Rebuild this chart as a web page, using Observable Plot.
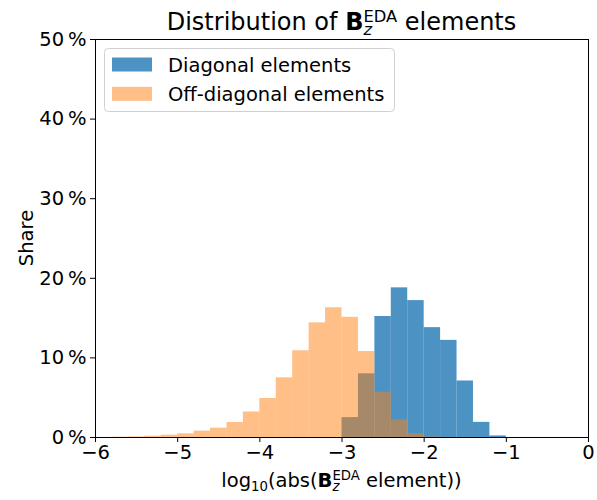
<!DOCTYPE html>
<html>
<head>
<meta charset="utf-8">
<script src="https://cdn.jsdelivr.net/npm/d3@7"></script>
<script src="https://cdn.jsdelivr.net/npm/@observablehq/plot@0.6"></script>
<style>
  html, body { margin: 0; padding: 0; background: #fff; }
  #chart { width: 597px; height: 500px; }
  svg { font-family: "DejaVu Sans", sans-serif; }
</style>
</head>
<body>
<div id="chart"></div>
<script>
// ---- data (share in %, histogram bins of width 0.2 on log10 scale) ----
const binWidth = 0.2;
const diagBinStarts = [-3.0, -2.8, -2.6, -2.4, -2.2, -2.0, -1.8, -1.6, -1.4, -1.2];
const diagShares    = [2.5, 8.0, 15.2, 18.8, 17.2, 13.8, 12.2, 7.1, 1.9, 0.2];
const offBinStarts  = [-5.8, -5.6, -5.4, -5.2, -5.0, -4.8, -4.6, -4.4, -4.2, -4.0,
                       -3.8, -3.6, -3.4, -3.2, -3.0, -2.8, -2.6, -2.4, -2.2, -2.0];
const offShares     = [0.04, 0.08, 0.17, 0.29, 0.46, 0.8, 1.17, 1.88, 3.2, 4.9,
                       7.5, 10.9, 14.4, 16.3, 15.1, 10.8, 5.7, 2.2, 0.5, 0.05];
const xTicks = [-6, -5, -4, -3, -2, -1, 0];
const yTicks = [0, 10, 20, 30, 40, 50];
const seriesNames = ["Diagonal elements", "Off-diagonal elements"];
const seriesColors = ["#1f77b4", "#ff7f0e"];
const seriesOpacity = [0.8, 0.5];

const diag = diagBinStarts.map((s, i) => ({x1: s, x2: s + binWidth, y: diagShares[i]}));
const off  = offBinStarts.map((s, i) => ({x1: s, x2: s + binWidth, y: offShares[i]}));

const fmtMinus = d => (d < 0 ? "\u2212" + Math.abs(d) : String(d));

const W = 597, H = 500;
const mL = 95, mR = 9, mT = 39, mB = 63;
const FS = 19.5;

const svg = Plot.plot({
  width: W, height: H,
  marginLeft: mL, marginRight: mR, marginTop: mT, marginBottom: mB,
  x: {domain: [-6, 0]},
  y: {domain: [0, 50]},
  marks: [
    Plot.rectY(diag, {x1: "x1", x2: "x2", y: "y", fill: seriesColors[0], fillOpacity: seriesOpacity[0], inset: 0}),
    Plot.rectY(off,  {x1: "x1", x2: "x2", y: "y", fill: seriesColors[1], fillOpacity: seriesOpacity[1], inset: 0}),
    Plot.frame({stroke: "#000", strokeWidth: 1}),
    Plot.axisX({ticks: xTicks, tickFormat: fmtMinus, tickSize: 5, tickPadding: 3, fontSize: FS, label: null, stroke: "#000", color: "#000"}),
    Plot.axisY({ticks: yTicks, tickFormat: d => d + "\u2009%", tickSize: 5, tickPadding: 4, fontSize: FS, label: null, stroke: "#000", color: "#000"})
  ]
});
svg.style.fontFamily = '"DejaVu Sans", sans-serif';
svg.style.color = "#000";
document.getElementById("chart").appendChild(svg);

const s = d3.select(svg);
const cx = mL + (W - mL - mR) / 2;

// helper: text with bold B, subscript z and superscript EDA
function mathText(x, y, size, pre, post, opts = {}) {
  const subSize = size * 0.68;
  const t = s.append("text")
    .attr("x", x).attr("y", y)
    .attr("text-anchor", "middle")
    .attr("fill", "#000")
    .style("font-size", size + "px");
  if (opts.logPrefix) {
    t.append("tspan").text("log");
    t.append("tspan").style("font-size", subSize + "px").attr("dy", size * 0.22).text("10");
    t.append("tspan").attr("dy", -size * 0.22).text(pre);
  } else {
    t.append("tspan").text(pre);
  }
  t.append("tspan").style("font-weight", "bold").text("B");
  const z = t.append("tspan").style("font-size", subSize + "px").style("font-style", "italic")
    .attr("dy", size * 0.22).text("z");
  const zw = z.node().getComputedTextLength();
  t.append("tspan").style("font-size", subSize + "px")
    .attr("dx", -zw).attr("dy", -size * 0.57).text("EDA");
  t.append("tspan").attr("dy", size * 0.35).text(post);
  return t;
}

// title
mathText(cx, 30, 24, "Distribution of ", " elements");
// x label
mathText(cx, 487, FS, "(abs(", " element))", {logPrefix: true});
// y label
s.append("text")
  .attr("transform", `translate(33,${mT + (H - mT - mB) / 2}) rotate(-90)`)
  .attr("text-anchor", "middle")
  .attr("fill", "#000")
  .style("font-size", FS + "px")
  .text("Share");

// legend
const lg = s.append("g");
lg.append("rect").attr("x", 104.5).attr("y", 48.5).attr("width", 290).attr("height", 63)
  .attr("rx", 4).attr("fill", "#fff").attr("fill-opacity", 0.8)
  .attr("stroke", "#d0d0d0").attr("stroke-width", 1);
seriesNames.forEach((name, i) => {
  const yy = 57.5 + i * 29.3;
  lg.append("rect").attr("x", 112).attr("y", yy).attr("width", 40).attr("height", 14)
    .attr("fill", seriesColors[i]).attr("fill-opacity", seriesOpacity[i]);
  lg.append("text").attr("x", 168).attr("y", yy + 14.2).attr("fill", "#000")
    .attr("text-anchor", "start")
    .style("font-size", FS + "px").text(name);
});
</script>
</body>
</html>
